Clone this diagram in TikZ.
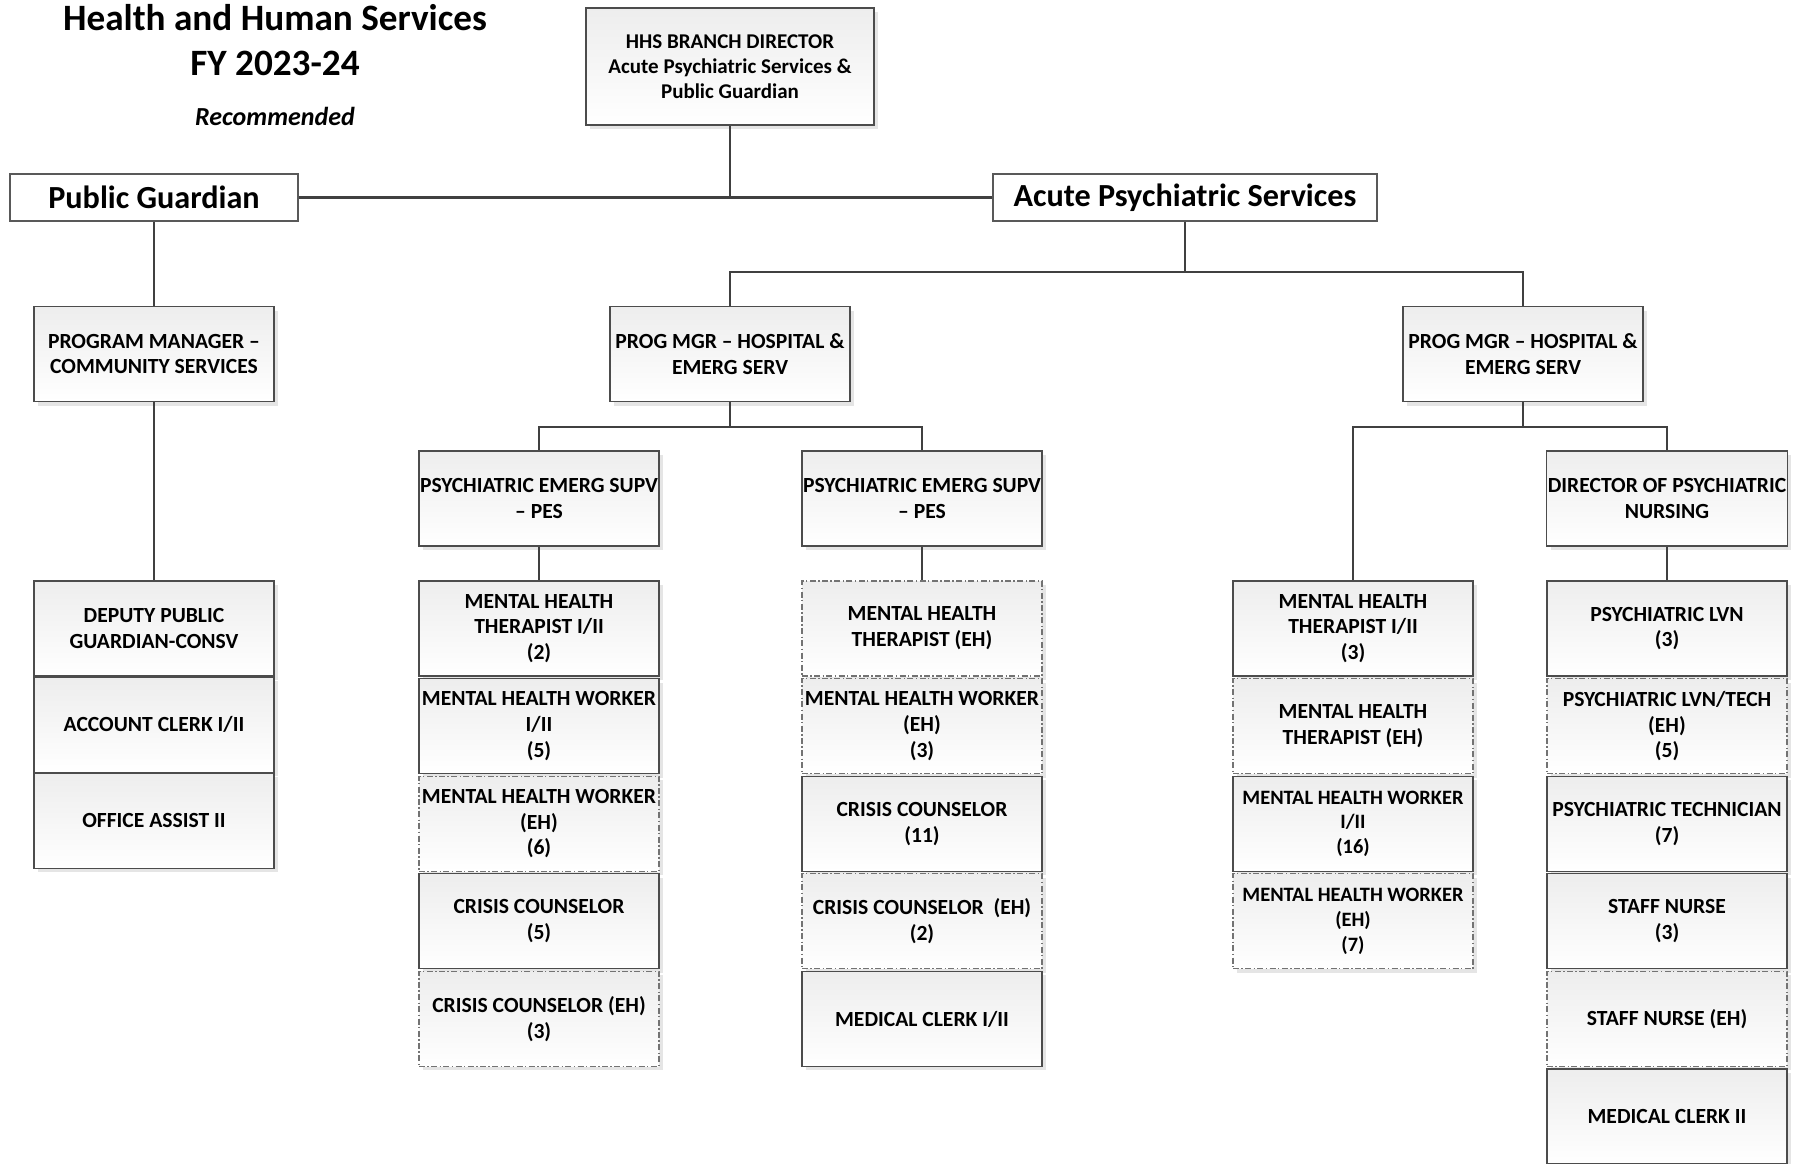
\documentclass[tikz,border=0pt]{standalone}
\usepackage{fontspec}
\setmainfont{Carlito}
\usepackage{tikz}
\usetikzlibrary{positioning,shadows}
\tikzstyle{block} = [rectangle, draw=black!70, line width=0.6pt, top color=black!7, bottom color=white,
align=center, font=\bfseries\fontsize{10.8}{12.9}\selectfont, minimum width=120pt, minimum height=47.5pt,
inner sep=0.5pt, drop shadow={shadow xshift=2pt, shadow yshift=-2pt, fill=black!10, opacity=1}]
\tikzstyle{ehblock} = [block, draw=black!55, dash pattern=on 3pt off 1.2pt on 0.7pt off 1.2pt]
\tikzstyle{head} = [rectangle, draw=black!65, line width=0.6pt, fill=white,
font=\bfseries\fontsize{16.1}{18}\selectfont, minimum width=144pt, minimum height=23.5pt, inner sep=2pt]
\tikzstyle{line} = [draw=black!75, line width=1.1pt]

\begin{document}
\begin{tikzpicture}[x=0.5pt, y=-0.5pt]
		\useasboundingbox (0,0) rectangle (1798,1163);
		\node [font=\bfseries\fontsize{18.6}{23}\selectfont] (title) at (275,18) {Health and Human Services};
		\node [font=\bfseries\fontsize{18.6}{23}\selectfont] (fy) at (275,63) {FY 2023-24};
		\node [font=\bfseries\itshape\fontsize{13}{16}\selectfont] (rec) at (275,116) {Recommended};
		
		\node [block, minimum width=144pt, minimum height=58.5pt, font=\bfseries\fontsize{10.5}{12.6}\selectfont] (hhs) at (730,66.5) {HHS BRANCH DIRECTOR\\Acute Psychiatric Services \&\\Public Guardian};
		\node [head] (pg) at (154,197.5) {Public Guardian};
		\node [head, minimum width=192pt] (aps) at (1185,197.5) {Acute Psychiatric Services};
		
		\node [block] (pm) at (154,354) {PROGRAM MANAGER –\\COMMUNITY SERVICES};
		\node [block] (hosp1) at (730,354) {PROG MGR – HOSPITAL \&\\EMERG SERV};
		\node [block] (hosp2) at (1523,354) {PROG MGR – HOSPITAL \&\\EMERG SERV};
		
		\node [block] (pes1) at (539,498.5) {PSYCHIATRIC EMERG SUPV\\– PES};
		\node [block] (pes2) at (922,498.5) {PSYCHIATRIC EMERG SUPV\\– PES};
		\node [block] (dir) at (1667,498.5) {DIRECTOR OF PSYCHIATRIC\\NURSING};
		
		% public guardian staff
		\node [block] (deputy) at (154,628.5) {DEPUTY PUBLIC\\GUARDIAN-CONSV};
		\node [block, below=0pt of deputy] (acct) {ACCOUNT CLERK I/II};
		\node [block, below=0pt of acct] (office) {OFFICE ASSIST II};
		
		% first PES column
		\node [block] (pes1a) at (539,628.5) {MENTAL HEALTH\\THERAPIST I/II\\(2)};
		\node [block, below=0.7pt of pes1a] (pes1b) {MENTAL HEALTH WORKER\\I/II\\(5)};
		\node [ehblock, below=0.7pt of pes1b] (pes1c) {MENTAL HEALTH WORKER\\(EH)\\(6)};
		\node [block, below=0.7pt of pes1c] (pes1d) {CRISIS COUNSELOR\\(5)};
		\node [ehblock, below=0.7pt of pes1d] (pes1e) {CRISIS COUNSELOR (EH)\\(3)};
		
		% second PES column
		\node [ehblock] (pes2a) at (922,628.5) {MENTAL HEALTH\\THERAPIST (EH)};
		\node [ehblock, below=0.7pt of pes2a] (pes2b) {MENTAL HEALTH WORKER\\(EH)\\(3)};
		\node [block, below=0.7pt of pes2b] (pes2c) {CRISIS COUNSELOR\\(11)};
		\node [ehblock, below=0.7pt of pes2c] (pes2d) {CRISIS COUNSELOR~~(EH)\\(2)};
		\node [block, below=0.7pt of pes2d] (pes2e) {MEDICAL CLERK I/II};
		
		% hospital column
		\node [block] (hosp2a) at (1353,628.5) {MENTAL HEALTH\\THERAPIST I/II\\(3)};
		\node [ehblock, below=0.7pt of hosp2a] (hosp2b) {MENTAL HEALTH\\THERAPIST (EH)};
		\node [block, below=0.7pt of hosp2b, font=\bfseries\fontsize{10.2}{12.4}\selectfont] (hosp2c) {MENTAL HEALTH WORKER\\I/II\\(16)};
		\node [ehblock, below=0.7pt of hosp2c, font=\bfseries\fontsize{10.2}{12.4}\selectfont] (hosp2d) {MENTAL HEALTH WORKER\\(EH)\\(7)};
		
		% nursing column
		\node [block] (dira) at (1667,628.5) {PSYCHIATRIC LVN\\(3)};
		\node [ehblock, below=0.7pt of dira] (dirb) {PSYCHIATRIC LVN/TECH\\(EH)\\(5)};
		\node [block, below=0.7pt of dirb] (dirc) {PSYCHIATRIC TECHNICIAN\\(7)};
		\node [block, below=0.7pt of dirc] (dird) {STAFF NURSE\\(3)};
		\node [ehblock, below=0.7pt of dird] (dire) {STAFF NURSE (EH)};
		\node [block, below=0.7pt of dire] (dirf) {MEDICAL CLERK II};
		
		\coordinate (top) at (hhs.south |- pg.east);
		\path [line] (pg.east) -- (aps.west);
		\path [line] (hhs.south) -- (top);
		
		\path [line] (pg.south) -- (pm.north);
		\path [line] (pm.south) -- (deputy.north);
		
		\path [line] (aps.south) -- ++(0,50) -| (hosp1.north);
		\path [line] (aps.south) -- ++(0,50) -| (hosp2.north);
		
		\path [line] (hosp1.south) -- ++(0,25) -| (pes1.north);
		\path [line] (hosp1.south) -- ++(0,25) -| (pes2.north);
		\path [line] (hosp2.south) -- ++(0,25) -| (hosp2a.north);
		\path [line] (hosp2.south) -- ++(0,25) -| (dir.north);
		
		\path [line] (pes1.south) -- (pes1a.north);
		\path [line] (pes2.south) -- (pes2a.north);
		\path [line] (dir.south) -- (dira.north);
		\end{tikzpicture}
\end{document}
